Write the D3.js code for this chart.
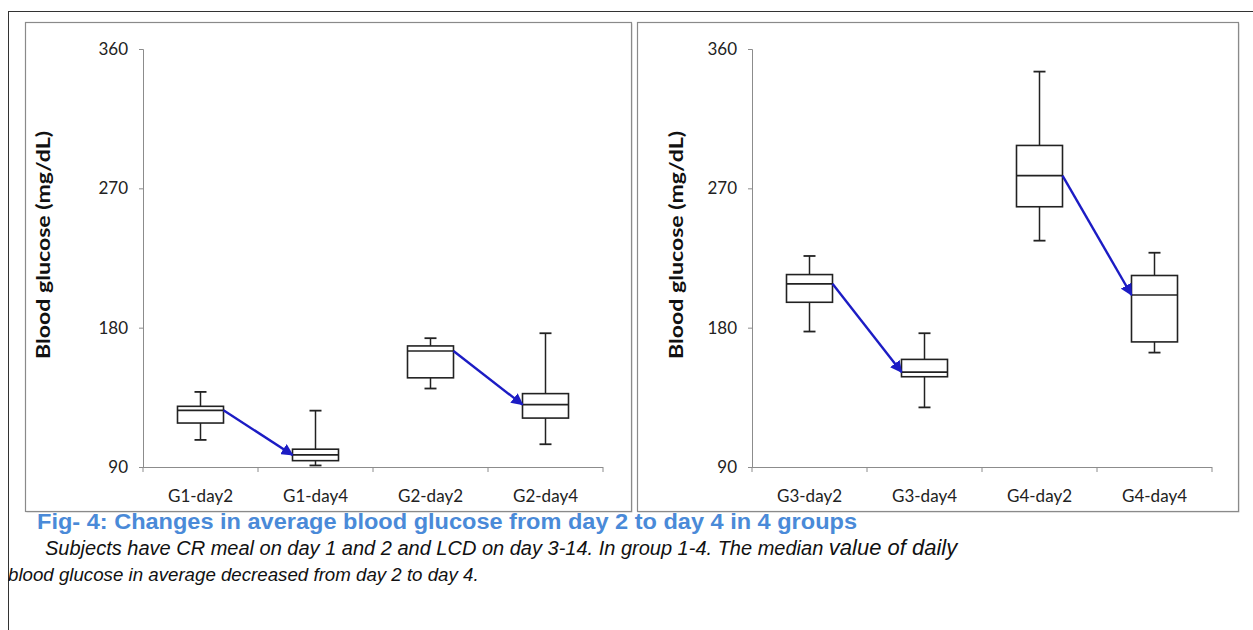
<!DOCTYPE html>
<html>
<head>
<meta charset="utf-8">
<script src="https://cdn.jsdelivr.net/npm/d3@7"></script>
<style>
  body { margin: 0; background: #fff; }
  svg { display: block; }
</style>
</head>
<body>
<svg id="chart" width="1253" height="630"></svg>
<script>
const groupsLeft = ['G1-day2', 'G1-day4', 'G2-day2', 'G2-day4'];
const groupsRight = ['G3-day2', 'G3-day4', 'G4-day2', 'G4-day4'];

// [whisker low, Q1, median, Q3, whisker high]
const statsLeft = [
    [107.5, 118.4, 126.6, 129.2, 138.5],
    [91, 94.1, 97.8, 101.5, 126.4],
    [140.7, 147.6, 164.9, 168.2, 173.2],
    [104.7, 121.6, 130.3, 137.4, 176.4]
];
const statsRight = [
    [177.5, 196.4, 208.3, 214.3, 226.3],
    [128.5, 148.3, 151.3, 159.5, 176.4],
    [236.2, 258.1, 278.2, 297.7, 345.4],
    [163.9, 170.8, 201.1, 213.7, 228.4]
];

// day2 -> day4 arrows, by index
const arrowPairs = [[0, 1], [2, 3]];
const yTicks = [90, 180, 270, 360];

const yLabel = 'Blood glucose (mg/dL)';
const captionTitle = 'Fig- 4: Changes in average blood glucose from day 2 to day 4 in 4 groups';
const captionLine1 = 'Subjects have CR meal on day 1 and 2 and LCD on day 3-14. In group 1-4. The median ';
const captionLine1End = 'value of daily';
const captionLine2 = 'blood glucose in average decreased from day 2 to day 4.';

const svg = d3.select('#chart');
const chartFont = 'Lato, "Open Sans", sans-serif';
const captionFont = '"Liberation Sans", Arial, sans-serif';

svg.append('defs').append('marker')
    .attr('id', 'arrowhead')
    .attr('viewBox', '0 0 10 10')
    .attr('refX', 9)
    .attr('refY', 5)
    .attr('markerWidth', 5)
    .attr('markerHeight', 5)
    .attr('markerUnits', 'strokeWidth')
    .attr('orient', 'auto')
    .append('path')
    .attr('d', 'M0,0 L10,5 L0,10 z')
    .attr('fill', '#1c1cc4');

// outer frame of the figure
svg.append('rect')
    .attr('x', 8.5).attr('y', 11.5)
    .attr('width', 1260).attr('height', 640)
    .attr('fill', 'none')
    .attr('stroke', '#333')
    .attr('stroke-width', 1);

const panels = [
    { left: 25, right: 631, axisX: 143, titleX: 45, groups: groupsLeft, stats: statsLeft },
    { left: 637, right: 1238, axisX: 752, titleX: 678, groups: groupsRight, stats: statsRight }
];

const plotTop = 49, plotBottom = 467;

function drawPanel(p) {
    const g = svg.append('g');

    g.append('rect')
        .attr('x', p.left + 1.5).attr('y', 23.5)
        .attr('width', p.right - p.left).attr('height', 489)
        .attr('fill', '#d6d6d6');
    g.append('rect')
        .attr('x', p.left + 0.5).attr('y', 22.5)
        .attr('width', p.right - p.left).attr('height', 489)
        .attr('fill', '#fff')
        .attr('stroke', '#8a8a8a')
        .attr('stroke-width', 1.2);

    const x = d3.scaleBand()
        .domain(p.groups)
        .range([p.axisX, p.axisX + 460]);
    const y = d3.scaleLinear()
        .domain([90, 360])
        .range([plotBottom, plotTop]);

    const yAxis = g.append('g')
        .attr('transform', `translate(${p.axisX},0)`)
        .call(d3.axisLeft(y).tickValues(yTicks).tickSize(4).tickPadding(11));
    yAxis.select('.domain').attr('stroke', '#8c8c8c');
    yAxis.selectAll('.tick line').attr('stroke', '#8c8c8c');
    yAxis.selectAll('.tick text')
        .attr('font-family', chartFont)
        .attr('font-size', 17)
        .attr('fill', '#222');

    const xAxis = g.append('g')
        .attr('transform', `translate(0,${plotBottom})`)
        .call(d3.axisBottom(x).tickSize(0).tickPadding(23));
    xAxis.select('.domain').attr('stroke', '#8c8c8c').attr('d', `M${p.axisX},0.5H${p.axisX + 460}`);
    xAxis.selectAll('.tick text')
        .attr('font-family', chartFont)
        .attr('font-size', 17)
        .attr('fill', '#222');

    // small tick marks between categories
    g.selectAll('.xsep')
        .data(d3.range(p.groups.length + 1))
        .enter()
        .append('line')
        .attr('x1', i => p.axisX + i * x.step())
        .attr('x2', i => p.axisX + i * x.step())
        .attr('y1', plotBottom)
        .attr('y2', plotBottom + 5)
        .attr('stroke', '#8c8c8c');

    g.append('text')
        .attr('transform', `translate(${p.titleX},245) rotate(-90)`)
        .attr('text-anchor', 'middle')
        .attr('dominant-baseline', 'middle')
        .attr('font-family', chartFont)
        .attr('font-weight', 'bold')
        .attr('font-size', 19)
        .attr('textLength', 228)
        .attr('lengthAdjust', 'spacingAndGlyphs')
        .attr('fill', '#111')
        .text(yLabel);

    const boxW = 46;
    const capW = 12;
    const data = p.groups.map((name, i) => ({ name, s: p.stats[i] }));

    const boxes = g.selectAll('.box')
        .data(data)
        .enter()
        .append('g')
        .attr('transform', d => `translate(${x(d.name) + x.bandwidth() / 2},0)`);

    boxes.append('line')
        .attr('y1', d => y(d.s[0])).attr('y2', d => y(d.s[4]))
        .attr('stroke', '#222').attr('stroke-width', 1.5);
    boxes.append('line')
        .attr('x1', -capW / 2).attr('x2', capW / 2)
        .attr('y1', d => y(d.s[4])).attr('y2', d => y(d.s[4]))
        .attr('stroke', '#222').attr('stroke-width', 1.8);
    boxes.append('line')
        .attr('x1', -capW / 2).attr('x2', capW / 2)
        .attr('y1', d => y(d.s[0])).attr('y2', d => y(d.s[0]))
        .attr('stroke', '#222').attr('stroke-width', 1.8);
    boxes.append('rect')
        .attr('x', -boxW / 2)
        .attr('y', d => y(d.s[3]))
        .attr('width', boxW)
        .attr('height', d => y(d.s[1]) - y(d.s[3]))
        .attr('fill', '#fff')
        .attr('stroke', '#222')
        .attr('stroke-width', 1.6);
    boxes.append('line')
        .attr('x1', -boxW / 2).attr('x2', boxW / 2)
        .attr('y1', d => y(d.s[2])).attr('y2', d => y(d.s[2]))
        .attr('stroke', '#222').attr('stroke-width', 1.6);

    arrowPairs.forEach(([a, b]) => {
        const from = data[a], to = data[b];
        g.append('line')
            .attr('x1', x(from.name) + x.bandwidth() / 2 + boxW / 2)
            .attr('y1', y(from.s[2]))
            .attr('x2', x(to.name) + x.bandwidth() / 2 - boxW / 2)
            .attr('y2', y(to.s[2]))
            .attr('stroke', '#1c1cc4')
            .attr('stroke-width', 2.4)
            .attr('marker-end', 'url(#arrowhead)');
    });
}

panels.forEach(drawPanel);

svg.append('text')
    .attr('x', 37).attr('y', 529)
    .attr('font-family', captionFont)
    .attr('font-weight', 'bold')
    .attr('font-size', 22)
    .attr('textLength', 820)
    .attr('lengthAdjust', 'spacingAndGlyphs')
    .attr('fill', '#4a8ad8')
    .text(captionTitle);

const line1 = svg.append('text')
    .attr('x', 45).attr('y', 555)
    .attr('font-family', captionFont)
    .attr('font-style', 'italic')
    .attr('font-size', 20)
    .attr('fill', '#111');
line1.append('tspan').text(captionLine1);
line1.append('tspan').attr('font-size', 22).text(captionLine1End);

svg.append('text')
    .attr('x', 8).attr('y', 581)
    .attr('font-family', captionFont)
    .attr('font-style', 'italic')
    .attr('font-size', 18.7)
    .attr('fill', '#111')
    .text(captionLine2);
</script>
</body>
</html>
